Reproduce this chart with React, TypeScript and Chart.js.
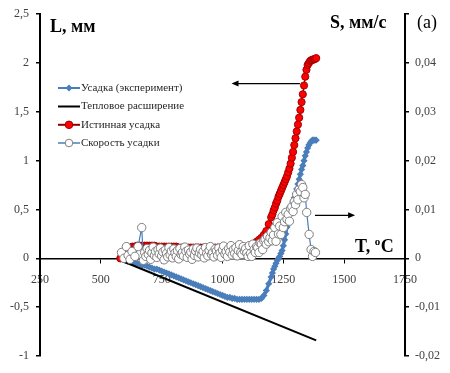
import React, { useEffect, useRef } from 'react';
import { Chart, registerables } from 'chart.js';

Chart.register(...registerables);

const FONT = "'Liberation Serif', 'Times New Roman', serif";

// Temperatures (°C) for the L-curves
const tempsL = [
  580, 590, 600, 610, 620, 630, 640, 650, 660, 670, 680, 690, 700, 710, 720, 730, 740, 750, 760, 770,
  780, 790, 800, 810, 820, 830, 840, 850, 860, 870, 880, 890, 900, 910, 920, 930, 940, 950, 960, 970,
  980, 990, 1000, 1010, 1020, 1030, 1040, 1050, 1060, 1070, 1080, 1090, 1100, 1110, 1120, 1130, 1140,
  1150, 1160, 1170, 1180, 1190, 1200, 1205, 1210, 1215, 1220, 1225, 1230, 1235, 1240, 1245, 1250, 1255,
  1260, 1265, 1270, 1275, 1280, 1285, 1290, 1295, 1300, 1305, 1310, 1315, 1320, 1325, 1330, 1335, 1340,
  1345, 1350, 1355, 1360, 1365, 1370, 1375, 1380, 1385,
];

// Усадка (эксперимент), mm
const expShrink = [
  0.0, -0.01, -0.02, -0.03, -0.03, -0.04, -0.05, -0.05, -0.06, -0.07, -0.07, -0.08, -0.09,
  -0.1, -0.11, -0.11, -0.12, -0.13, -0.14, -0.15, -0.16, -0.17, -0.18,
  -0.19, -0.2, -0.21, -0.22, -0.23, -0.24, -0.25, -0.26, -0.27, -0.28,
  -0.29, -0.3, -0.31, -0.32, -0.33, -0.34, -0.35, -0.36, -0.37, -0.38,
  -0.39, -0.4, -0.4, -0.41, -0.41, -0.42, -0.42, -0.42, -0.42, -0.42,
  -0.42, -0.42, -0.42, -0.42, -0.42, -0.41, -0.38, -0.33, -0.26, -0.19,
  -0.15, -0.11, -0.08, -0.05, -0.02, 0.0, 0.02, 0.05, 0.08, 0.13, 0.19, 0.25, 0.32, 0.39, 0.45,
  0.5, 0.54, 0.58, 0.62, 0.66, 0.71, 0.76, 0.81, 0.86, 0.91, 0.95, 1.0, 1.05, 1.09, 1.13, 1.16,
  1.18, 1.2, 1.21, 1.21, 1.21, 1.21,
];

// Истинная усадка, mm
const trueShrink = [
  0.0, 0.05, 0.08, 0.1, 0.11, 0.12, 0.12, 0.13, 0.13, 0.13, 0.13, 0.13, 0.13,
  0.13, 0.13, 0.12, 0.12, 0.12, 0.12, 0.12, 0.12, 0.12, 0.12,
  0.12, 0.11, 0.11, 0.11, 0.11, 0.11, 0.11, 0.11, 0.11, 0.11,
  0.11, 0.11, 0.11, 0.11, 0.11, 0.11, 0.11, 0.11, 0.11, 0.11,
  0.11, 0.11, 0.11, 0.11, 0.11, 0.11, 0.11, 0.11, 0.12, 0.12,
  0.13, 0.14, 0.15, 0.17, 0.19, 0.21, 0.24, 0.28, 0.35, 0.42,
  0.45, 0.49, 0.52, 0.56, 0.59, 0.63, 0.66, 0.69, 0.72, 0.75, 0.78, 0.81, 0.84, 0.88, 0.92,
  0.97, 1.03, 1.09, 1.16, 1.23, 1.3, 1.37, 1.44, 1.52, 1.6, 1.68, 1.77, 1.86, 1.93, 1.98,
  2.0, 2.02, 2.03, 2.03, 2.04, 2.04, 2.05,
];

// Тепловое расширение (straight line), mm
const thermalTemps = [580, 1385];
const thermalValues = [-0.02, -0.84];

// Скорость усадки, mm/s (right axis)
const speedTemps = [
  585, 595, 605, 612, 620, 628, 640, 653, 668, 675,
  680, 685, 690, 695, 700, 705, 710, 715, 720, 725, 730, 735, 740, 745, 750, 755, 760, 765, 770, 775,
  780, 785, 790, 795, 800, 805, 810, 815, 820, 825, 830, 835, 840, 845, 850, 855, 860, 865, 870, 875,
  880, 885, 890, 895, 900, 905, 910, 915, 920, 925, 930, 935, 940, 945, 950, 955, 960, 965, 970, 975,
  980, 985, 990, 995, 1000, 1005, 1010, 1015, 1020, 1025, 1030, 1035, 1040, 1045, 1050, 1055, 1060,
  1065, 1070, 1075, 1080, 1085, 1090, 1095, 1100,
  1105, 1110, 1115, 1120, 1125, 1130, 1135, 1140, 1145, 1150, 1155, 1160, 1165, 1170, 1175, 1180,
  1185, 1190, 1195, 1200, 1205, 1210, 1215, 1220, 1225, 1230, 1235, 1240, 1245, 1250, 1255, 1260,
  1265, 1270, 1275, 1280, 1285, 1290, 1295, 1300, 1305, 1310, 1315, 1320, 1325,
  1330, 1335, 1340, 1346, 1356, 1364, 1370, 1376, 1382,
];
const speedValues = [
  0.0012, 0.0, 0.0024, 0.0006, -0.0002, 0.0014, 0.0004, 0.0024, 0.0063, -0.0004,
  0.0012, 0.0004, 0.002, 0.0008, 0.0016, -0.0002, 0.0011, 0.0023, 0.0006, 0.0014,
  0.0002, 0.0018, 0.0009, 0.0021, 0.0005, 0.0013, -0.0003, 0.0017, 0.001, 0.0003,
  0.0022, 0.0007, 0.0015, 0.0001, 0.0019, 0.0011, 0.0004, 0.0016, -0.0001, 0.002,
  0.0008, 0.0012, 0.0005, 0.0023, 0.0014, 0.0002, 0.0017, 0.0009, 0.0013, -0.0002,
  0.0019, 0.0006, 0.0015, 0.0021, 0.0003, 0.0011, 0.0018, 0.0007, 0.0014, 0.0001,
  0.0022, 0.001, 0.0005, 0.0016, 0.0024, 0.0008, 0.0012, 0.0003, 0.0019, 0.0015,
  0.0006, 0.0021, 0.0011, 0.0002, 0.0017, 0.0025, 0.0009, 0.0014, 0.0004, 0.002,
  0.0013, 0.0026, 0.0007, 0.0018, 0.001, 0.0022, 0.0005, 0.0016, 0.0028, 0.0012,
  0.0008, 0.0024, 0.0015, 0.002, 0.0011,
  0.0004, 0.0026, 0.001, 0.0004, 0.0029, 0.0018, 0.0012, 0.0024, 0.0022, 0.0012, 0.0031, 0.0029,
  0.0018, 0.0036, 0.0039, 0.0029, 0.0045, 0.0034, 0.0042, 0.0053, 0.0036, 0.0048, 0.0063, 0.0035,
  0.0073, 0.005, 0.0066, 0.0049, 0.0086, 0.0063, 0.0075, 0.0094, 0.008, 0.009, 0.0076, 0.0102,
  0.0106, 0.0096, 0.0116, 0.011, 0.0131, 0.012, 0.0141, 0.0137, 0.0151,
  0.0145, 0.0124, 0.0131, 0.0094, 0.0049, 0.0018, 0.0004, 0.0014, 0.0012,
];

const legendLabels = ['Усадка (эксперимент)', 'Тепловое расширение', 'Истинная усадка', 'Скорость усадки'];
const xTicks = { min: 250, max: 1750, step: 250 };
const yTicks = { min: -1, max: 2.5, step: 0.5 };
const y1Ticks = { min: -0.02, max: 0.05, step: 0.01 };

const BLUE = '#4a7ebb';
const fmt = (v: number, digits: number) => {
  const r = Math.round(v * Math.pow(10, digits)) / Math.pow(10, digits);
  return String(r).replace('.', ',');
};

function arrow(ctx: CanvasRenderingContext2D, x1: number, y: number, x2: number) {
  ctx.save();
  ctx.strokeStyle = '#000';
  ctx.fillStyle = '#000';
  ctx.lineWidth = 1.3;
  const dir = Math.sign(x2 - x1);
  ctx.beginPath();
  ctx.moveTo(x1, y);
  ctx.lineTo(x2 - dir * 5, y);
  ctx.stroke();
  ctx.beginPath();
  ctx.moveTo(x2, y);
  ctx.lineTo(x2 - dir * 7, y - 3);
  ctx.lineTo(x2 - dir * 7, y + 3);
  ctx.closePath();
  ctx.fill();
  ctx.restore();
}

const decor = {
  id: 'decor',
  afterDraw(chart: any) {
    const ctx: CanvasRenderingContext2D = chart.ctx;
    const xs = chart.scales.x;
    const ys = chart.scales.y;
    const y1s = chart.scales.y1;
    ctx.save();
    ctx.fillStyle = '#000';
    ctx.textBaseline = 'alphabetic';
    ctx.textAlign = 'left';
    ctx.font = `bold 18px ${FONT}`;
    ctx.fillText('L, мм', 50, 32);
    ctx.fillText('S, мм/с', 330, 28);
    ctx.font = `18px ${FONT}`;
    ctx.fillText('(a)', 417, 28);
    // T, °C
    ctx.font = `bold 18px ${FONT}`;
    const tx = 355;
    const ty = 252;
    ctx.fillText('T, ', tx, ty);
    const w1 = ctx.measureText('T, ').width;
    ctx.font = `bold 11px ${FONT}`;
    ctx.fillText('o', tx + w1, ty - 7);
    const w2 = ctx.measureText('o').width;
    ctx.font = `bold 18px ${FONT}`;
    ctx.fillText('C', tx + w1 + w2 + 0.5, ty);

    // arrows
    arrow(ctx, xs.getPixelForValue(1318), ys.getPixelForValue(1.79), xs.getPixelForValue(1037));
    arrow(ctx, xs.getPixelForValue(1380), y1s.getPixelForValue(0.0088), xs.getPixelForValue(1545));

    // legend
    const rows = [88, 106.5, 124.8, 143];
    const lx1 = 58;
    const lx2 = 80;
    const mx = 69;
    ctx.font = `11px ${FONT}`;
    ctx.textBaseline = 'middle';
    rows.forEach((ry, i) => {
      const ds = chart.data.datasets[i];
      ctx.save();
      ctx.strokeStyle = ds.borderColor;
      ctx.lineWidth = i === 3 ? 1.5 : 2;
      ctx.beginPath();
      ctx.moveTo(lx1, ry);
      ctx.lineTo(lx2, ry);
      ctx.stroke();
      if (i === 0) {
        ctx.fillStyle = BLUE;
        ctx.beginPath();
        ctx.moveTo(mx, ry - 3.5);
        ctx.lineTo(mx + 3.5, ry);
        ctx.lineTo(mx, ry + 3.5);
        ctx.lineTo(mx - 3.5, ry);
        ctx.closePath();
        ctx.fill();
      } else if (i === 2) {
        ctx.fillStyle = '#ff0000';
        ctx.strokeStyle = '#a00000';
        ctx.lineWidth = 1;
        ctx.beginPath();
        ctx.arc(mx, ry, 3.8, 0, Math.PI * 2);
        ctx.fill();
        ctx.stroke();
      } else if (i === 3) {
        ctx.fillStyle = '#fff';
        ctx.strokeStyle = '#7f7f7f';
        ctx.lineWidth = 1;
        ctx.beginPath();
        ctx.arc(mx, ry, 3.8, 0, Math.PI * 2);
        ctx.fill();
        ctx.stroke();
      }
      ctx.restore();
      ctx.fillStyle = '#262626';
      ctx.fillText(legendLabels[i], lx2 + 1, ry);
    });
    ctx.restore();
  },
};

export default function App() {
  const ref = useRef<HTMLCanvasElement>(null);
  useEffect(() => {
    const canvas = ref.current;
    if (!canvas) return;
    const tickFont = { family: FONT, size: 12 };
    const chart = new Chart(canvas, {
      type: 'scatter',
      data: {
        datasets: [
          {
            label: legendLabels[0],
            data: tempsL.map((t, i) => ({ x: t, y: expShrink[i] })),
            yAxisID: 'y',
            showLine: true,
            borderColor: BLUE,
            backgroundColor: BLUE,
            borderWidth: 3.2,
            pointStyle: 'rectRot',
            pointRadius: 3.6,
            pointBorderWidth: 0,
            pointBackgroundColor: BLUE,
            order: 3,
          },
          {
            label: legendLabels[1],
            data: thermalTemps.map((t, i) => ({ x: t, y: thermalValues[i] })),
            yAxisID: 'y',
            showLine: true,
            borderColor: '#000000',
            backgroundColor: '#000000',
            borderWidth: 2,
            pointRadius: 0,
            order: 2,
          },
          {
            label: legendLabels[2],
            data: tempsL.map((t, i) => ({ x: t, y: trueShrink[i] })),
            yAxisID: 'y',
            showLine: true,
            borderColor: '#8b0000',
            backgroundColor: '#ff0000',
            borderWidth: 1.5,
            pointStyle: 'circle',
            pointRadius: 3.6,
            pointBorderWidth: 1,
            pointBorderColor: '#a00000',
            pointBackgroundColor: '#ff0000',
            order: 1,
          },
          {
            label: legendLabels[3],
            data: speedTemps.map((t, i) => ({ x: t, y: speedValues[i] })),
            yAxisID: 'y1',
            showLine: true,
            borderColor: BLUE,
            backgroundColor: '#ffffff',
            borderWidth: 1.2,
            pointStyle: 'circle',
            pointRadius: 4.2,
            pointBorderWidth: 1,
            pointBorderColor: '#7f7f7f',
            pointBackgroundColor: '#ffffff',
            order: 0,
          },
        ],
      },
      options: {
        responsive: false,
        animation: false,
        events: [],
        layout: { padding: { top: 14, bottom: 17, left: 0, right: 0 } },
        plugins: {
          legend: { display: false },
          tooltip: { enabled: false },
        },
        scales: {
          x: {
            type: 'linear',
            position: { y: 0 } as any,
            min: xTicks.min,
            max: xTicks.max,
            ticks: {
              stepSize: xTicks.step,
              font: tickFont,
              color: '#404040',
              padding: 10,
              maxRotation: 0,
              callback: (v: any) => String(v),
            },
            grid: { drawOnChartArea: false, tickLength: 4, color: '#000000', lineWidth: 1 },
            border: { color: '#000000', width: 1.5 },
          },
          y: {
            type: 'linear',
            position: 'left',
            min: yTicks.min,
            max: yTicks.max,
            ticks: {
              stepSize: yTicks.step,
              font: tickFont,
              color: '#404040',
              padding: 7,
              callback: (v: any) => fmt(Number(v), 1),
            },
            grid: { drawOnChartArea: false, tickLength: 4, color: '#000000', lineWidth: 1.5 },
            border: { color: '#000000', width: 2 },
            afterFit: (s: any) => {
              s.width = 40;
            },
          },
          y1: {
            type: 'linear',
            position: 'right',
            min: y1Ticks.min,
            max: y1Ticks.max,
            ticks: {
              stepSize: y1Ticks.step,
              font: tickFont,
              color: '#404040',
              padding: 6,
              callback: (v: any) => (Math.abs(Number(v) - y1Ticks.max) < 1e-9 ? '' : fmt(Number(v), 2)),
            },
            grid: { drawOnChartArea: false, tickLength: 4, color: '#000000', lineWidth: 1.5 },
            border: { color: '#000000', width: 2 },
            afterFit: (s: any) => {
              s.width = 45;
            },
          },
        },
      } as any,
      plugins: [decor],
    });
    return () => chart.destroy();
  }, []);
  return (
    <div style={{ position: 'fixed', left: 0, top: 0, width: 450, height: 373, background: '#fff' }}>
      <canvas ref={ref} width={450} height={373} style={{ display: 'block' }} />
    </div>
  );
}
